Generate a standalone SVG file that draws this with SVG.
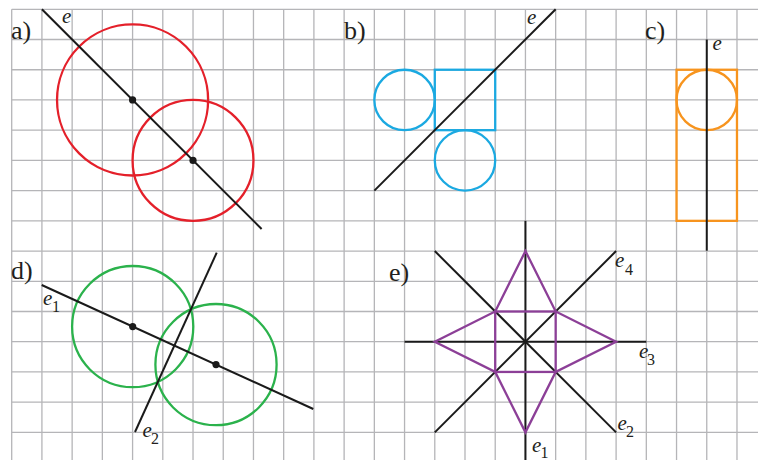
<svg xmlns="http://www.w3.org/2000/svg" width="758" height="460" viewBox="0 0 758 460">
<style>
.grid{stroke:#b5b5b8;stroke-width:1.3;fill:none}
.ax{stroke:#1a1a1a;stroke-width:2;fill:none;stroke-linecap:butt}
.red{stroke:#e4202a;stroke-width:2.3;fill:none}
.blue{stroke:#1ba9e1;stroke-width:2.3;fill:none}
.orange{stroke:#f7941e;stroke-width:2.3;fill:none}
.green{stroke:#2bb24c;stroke-width:2.3;fill:none}
.purple{stroke:#8c3f97;stroke-width:2.3;fill:none;stroke-linejoin:miter}
.dot{fill:#1a1a1a}
.lbl{font-family:"Liberation Serif","DejaVu Serif",serif;font-size:26px;fill:#231f20}
.ev{font-family:"Liberation Serif","DejaVu Serif",serif;font-style:italic;font-size:21px;fill:#231f20}
.sub{font-family:"Liberation Serif","DejaVu Serif",serif;font-size:16px;fill:#231f20}
</style>
<rect width="758" height="460" fill="#ffffff"/>
<g id="grid" class="grid">
<path d="M11.7 9.3V460M41.92 9.3V460M72.14 9.3V460M102.36 9.3V460M132.58 9.3V460M162.8 9.3V460M193.02 9.3V460M223.24 9.3V460M253.46 9.3V460M283.68 9.3V460M313.9 9.3V460M344.12 9.3V460M374.34 9.3V460M404.56 9.3V460M434.78 9.3V460M465 9.3V460M495.22 9.3V460M525.44 9.3V460M555.66 9.3V460M585.88 9.3V460M616.1 9.3V460M646.32 9.3V460M676.54 9.3V460M706.76 9.3V460M736.98 9.3V460"/>
<path d="M11.7 9.3H758M11.7 39.52H758M11.7 69.74H758M11.7 99.96H758M11.7 130.18H758M11.7 160.4H758M11.7 190.62H758M11.7 220.84H758M11.7 251.06H758M11.7 281.28H758M11.7 311.5H758M11.7 341.72H758M11.7 371.94H758M11.7 402.16H758M11.7 432.38H758"/>
</g>
<g id="panel-a">
<circle class="red" cx="132.58" cy="99.96" r="75.55"/>
<circle class="red" cx="193.02" cy="160.4" r="60.44"/>
<line class="ax" x1="41.92" y1="9.3" x2="261.6" y2="229"/>
<circle class="dot" cx="132.58" cy="99.96" r="3.6"/>
<circle class="dot" cx="193.02" cy="160.4" r="3.6"/>
<text class="lbl" x="11" y="39">a)</text>
<text class="ev" x="62" y="23">e</text>
</g>
<g id="panel-b">
<rect class="blue" x="434.78" y="69.74" width="60.44" height="60.44"/>
<circle class="blue" cx="404.56" cy="99.96" r="30.22"/>
<circle class="blue" cx="465" cy="160.4" r="30.22"/>
<line class="ax" x1="374.34" y1="190.62" x2="555.66" y2="9.3"/>
<text class="lbl" x="344" y="39">b)</text>
<text class="ev" x="527" y="23.5">e</text>
</g>
<g id="panel-c">
<rect class="orange" x="676.54" y="69.74" width="60.44" height="151.1"/>
<circle class="orange" cx="706.76" cy="99.96" r="30.22"/>
<line class="ax" x1="706.76" y1="39.52" x2="706.76" y2="250.7"/>
<text class="lbl" x="645" y="39">c)</text>
<text class="ev" x="712.5" y="50">e</text>
</g>
<g id="panel-d">
<circle class="green" cx="132.7" cy="326.6" r="60.6"/>
<circle class="green" cx="216" cy="364.6" r="60.6"/>
<line class="ax" x1="41.7" y1="285" x2="313.3" y2="409"/>
<line class="ax" x1="135" y1="432" x2="216.7" y2="252.7"/>
<circle class="dot" cx="132.7" cy="326.6" r="3.6"/>
<circle class="dot" cx="216" cy="364.6" r="3.6"/>
<text class="lbl" x="11" y="279">d)</text>
<text class="ev" x="43" y="305">e</text><text class="sub" x="52" y="312">1</text>
<text class="ev" x="142.5" y="437">e</text><text class="sub" x="151" y="444">2</text>
</g>
<g id="panel-e">
<line class="ax" x1="525.44" y1="220.84" x2="525.44" y2="460"/>
<line class="ax" x1="404.56" y1="341.72" x2="646.32" y2="341.72"/>
<line class="ax" x1="434.78" y1="251.06" x2="616.1" y2="432.38"/>
<line class="ax" x1="434.78" y1="432.38" x2="616.1" y2="251.06"/>
<path class="purple" d="M525.44 251.06L555.66 311.5L616.1 341.72L555.66 371.94L525.44 432.38L495.22 371.94L434.78 341.72L495.22 311.5Z"/>
<rect class="purple" x="495.22" y="311.5" width="60.44" height="60.44"/>
<text class="lbl" x="389" y="281">e)</text>
<text class="ev" x="615" y="267">e</text><text class="sub" x="625" y="275">4</text>
<text class="ev" x="639" y="358">e</text><text class="sub" x="647" y="365">3</text>
<text class="ev" x="617.5" y="430">e</text><text class="sub" x="626" y="437">2</text>
<text class="ev" x="532" y="451.5">e</text><text class="sub" x="540.5" y="457.5">1</text>
</g>
</svg>
